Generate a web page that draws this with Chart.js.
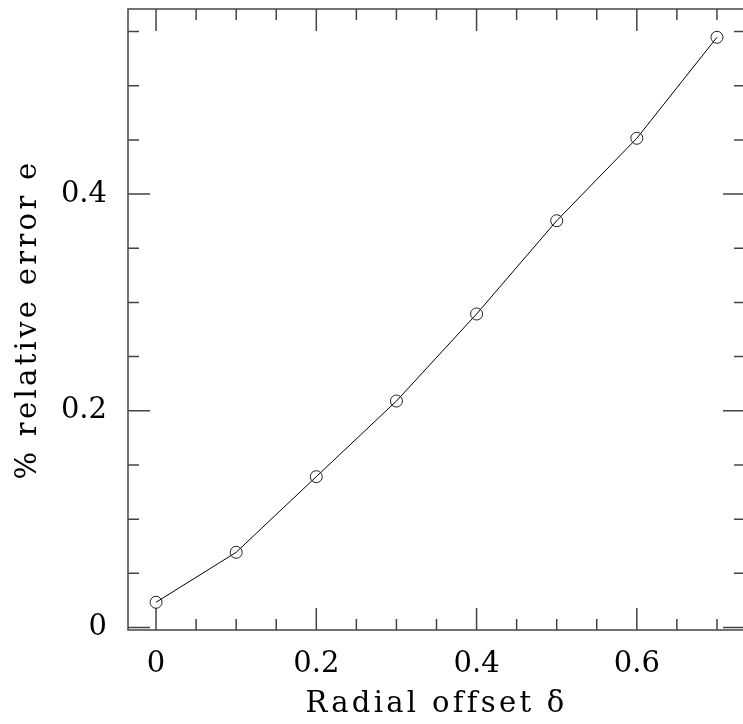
<!DOCTYPE html>
<html>
<head>
<meta charset="utf-8">
<style>
  html, body { margin: 0; padding: 0; background: #fff; overflow: hidden; }
  /* the right-hand frame edge sits just past the window edge */
  #wrap { width: 752px; height: 724px; }
</style>
</head>
<body>
<div id="wrap"><canvas id="errChart"></canvas></div>
<script src="https://cdn.jsdelivr.net/npm/chart.js"></script>
<script>
// radial offset vs. percentage relative error
const offsets = [0, 0.1, 0.2, 0.3, 0.4, 0.5, 0.6, 0.7];
const relError = [0.0233, 0.0694, 0.1392, 0.2090, 0.2893, 0.3754, 0.4515, 0.5447];

// tick marks on the frame, labelled ones get the long ticks
const xTicks = [0, 0.05, 0.1, 0.15, 0.2, 0.25, 0.3, 0.35, 0.4, 0.45, 0.5, 0.55, 0.6, 0.65, 0.7];
const xLabelled = [0, 0.2, 0.4, 0.6];
const yTicks = [0, 0.05, 0.1, 0.15, 0.2, 0.25, 0.3, 0.35, 0.4, 0.45, 0.5, 0.55];
const yLabelled = [0, 0.2, 0.4];

const FONT = { family: 'DejaVu Serif', size: 29, weight: 'normal' };

function fmt(v) { return String(Math.round(v * 10) / 10); }

// box around the plot with inward ticks on all four sides
const framePlugin = {
  id: 'frame',
  beforeDraw(chart) { chart.ctx.letterSpacing = '0px'; },
  beforeDatasetsDraw(chart) {
    const { ctx, chartArea: a, scales: { x, y } } = chart;
    ctx.save();
    ctx.strokeStyle = '#444';
    ctx.lineWidth = 1.5;
    ctx.strokeRect(a.left, a.top, a.right - a.left, a.bottom - a.top);
    ctx.beginPath();
    x.ticks.forEach(function(t) {
      const px = x.getPixelForValue(t.value);
      const len = xLabelled.includes(t.value) ? 22 : 11;
      ctx.moveTo(px, a.bottom); ctx.lineTo(px, a.bottom - len);
      ctx.moveTo(px, a.top); ctx.lineTo(px, a.top + len);
    });
    y.ticks.forEach(function(t) {
      const py = y.getPixelForValue(t.value);
      const len = yLabelled.includes(t.value) ? 22 : 11;
      ctx.moveTo(a.left, py); ctx.lineTo(a.left + len, py);
      ctx.moveTo(a.right, py); ctx.lineTo(a.right - len, py);
    });
    ctx.stroke();
    ctx.restore();
  },
  // axis titles (grid layer, z = 1) are drawn after this, spaced out a little
  afterDatasetsDraw(chart) { chart.ctx.letterSpacing = '3.3px'; },
  afterDraw(chart) { chart.ctx.letterSpacing = '0px'; }
};

const config = {
  type: 'line',
  data: {
    datasets: [{
      data: offsets.map(function(o, i) { return { x: o, y: relError[i] }; }),
      borderColor: '#000',
      borderWidth: 1,
      tension: 0,
      pointRadius: 6,
      pointBackgroundColor: 'rgba(0,0,0,0)',
      pointBorderColor: '#222',
      pointBorderWidth: 1,
      clip: false
    }]
  },
  options: {
    responsive: true,
    maintainAspectRatio: false,
    animation: false,
    devicePixelRatio: 1,
    layout: { padding: { top: 9, right: 4, left: 0, bottom: 0 } },
    plugins: { legend: { display: false }, tooltip: { enabled: false } },
    scales: {
      x: {
        type: 'linear',
        min: -0.035,
        max: 0.735,
        grid: { display: false, drawTicks: false, z: 1 },
        border: { display: false },
        afterBuildTicks: function(scale) { scale.ticks = xTicks.map(function(v) { return { value: v }; }); },
        afterFit: function(scale) {
          scale.height = 94;
          scale.paddingLeft = 0;
          scale.paddingRight = 0;
        },
        ticks: {
          autoSkip: false,
          maxRotation: 0,
          padding: 17,
          color: '#000',
          font: FONT,
          callback: function(v) { return xLabelled.includes(v) ? fmt(v) : ''; }
        },
        title: {
          display: true,
          text: 'Radial offset δ',
          color: '#000',
          font: FONT,
          padding: { top: 0, bottom: 2 }
        }
      },
      y: {
        type: 'linear',
        min: -0.0023,
        max: 0.5708,
        grid: { display: false, drawTicks: false, z: 1 },
        border: { display: false },
        afterBuildTicks: function(scale) { scale.ticks = yTicks.map(function(v) { return { value: v }; }); },
        afterFit: function(scale) {
          scale.width = 128;
          scale.paddingTop = 0;
          scale.paddingBottom = 0;
        },
        ticks: {
          autoSkip: false,
          padding: 21,
          color: '#000',
          font: FONT,
          callback: function(v) { return yLabelled.includes(v) ? fmt(v) : ''; }
        },
        title: {
          display: true,
          text: '% relative error e',
          color: '#000',
          font: FONT,
          padding: { top: 11, bottom: 0 }
        }
      }
    }
  },
  plugins: [framePlugin]
};

new Chart('errChart', config);
</script>
</body>
</html>
